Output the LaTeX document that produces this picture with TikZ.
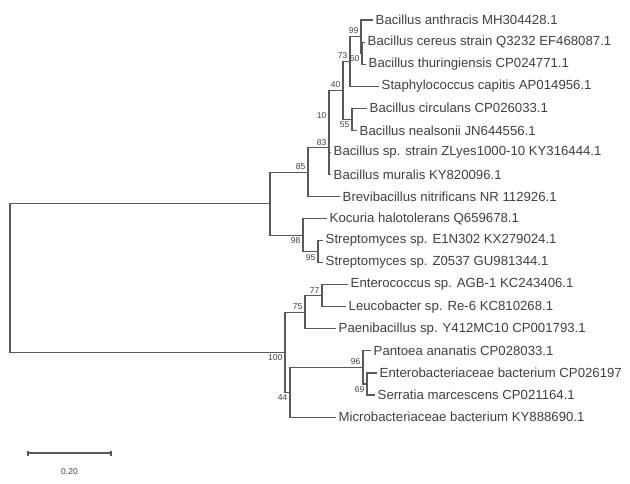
\documentclass[tikz,border=0pt]{standalone}
\usepackage{fontspec}
\setmainfont{Liberation Sans}
\usetikzlibrary{positioning,calc}

\begin{document}
\begin{tikzpicture}[
    x=1pt, y=-1pt,
    branch/.style={draw=black!65, line width=1.1pt},
    tip/.style={anchor=west, inner sep=2.5pt, font=\fontsize{13.2}{15}\selectfont, text=black!75},
    boot/.style={inner sep=2.5pt, font=\fontsize{8.5}{10}\selectfont, text=black!75}
]
\useasboundingbox (0,0) rectangle (630,484);

% inner nodes of the tree
\coordinate (root) at (10,278);
\coordinate (nU) at (270,203.6);
\coordinate (n85) at (308,172.2);
\coordinate (n83) at (329,147.9);
\coordinate (n10) at (329,121.3);
\coordinate (n40) at (343,90.3);
\coordinate (n73) at (350,61.4);
\coordinate (n99) at (361,36.6);
\coordinate (n60) at (362,53.1);
\coordinate (n55) at (352,119.3);
\coordinate (n98) at (303,235.1);
\coordinate (n95) at (318,251.6);
\coordinate (n100) at (285,352.3);
\coordinate (n75) at (305,312.3);
\coordinate (n77) at (322,295.8);
\coordinate (n44) at (290,392.3);
\coordinate (n96) at (363,367.5);
\coordinate (n69) at (367,384);

% taxa
\node[tip] (anthracis) at (373,20) {Bacillus anthracis MH304428.1};
\node[tip] (cereus) at (365,42.1) {Bacillus cereus strain Q3232 EF468087.1};
\node[tip] (thuring) at (366,64.1) {Bacillus thuringiensis CP024771.1};
\node[tip] (staph) at (379,86.2) {Staphylococcus capitis AP014956.1};
\node[tip] (circulans) at (367,108.2) {Bacillus circulans CP026033.1};
\node[tip] (nealsonii) at (357,130.3) {Bacillus nealsonii JN644556.1};
\node[tip] (zlyes) at (331,152.4) {Bacillus sp. strain ZLyes1000-10 KY316444.1};
\node[tip] (muralis) at (331,174.4) {Bacillus muralis KY820096.1};
\node[tip] (brevi) at (340,196.5) {Brevibacillus nitrificans NR 112926.1};
\node[tip] (kocuria) at (327,218.5) {Kocuria halotolerans Q659678.1};
\node[tip] (strepA) at (323,240.6) {Streptomyces sp. E1N302 KX279024.1};
\node[tip] (strepB) at (323,262.7) {Streptomyces sp. Z0537 GU981344.1};
\node[tip] (entero) at (348,284.7) {Enterococcus sp. AGB-1 KC243406.1};
\node[tip] (leuco) at (346,306.8) {Leucobacter sp. Re-6 KC810268.1};
\node[tip] (paeni) at (336,328.8) {Paenibacillus sp. Y412MC10 CP001793.1};
\node[tip] (pantoea) at (371,350.9) {Pantoea ananatis CP028033.1};
\node[tip] (enterobac) at (377,373) {Enterobacteriaceae bacterium CP026197};
\node[tip] (serratia) at (375,395) {Serratia marcescens CP021164.1};
\node[tip] (microbac) at (336,417.1) {Microbacteriaceae bacterium KY888690.1};

% branches
\draw[branch] (root) |- (nU);
\draw[branch] (root) |- (n100);
\draw[branch] (nU) |- (n85);
\draw[branch] (nU) |- (n98);
\draw[branch] (n85) |- (n83);
\draw[branch] (n85) |- (brevi.west);
\draw[branch] (n83) |- (n10);
\draw[branch] (n83) |- (muralis.west);
\draw[branch] (n10) |- (n40);
\draw[branch] (n10) |- (zlyes.west);
\draw[branch] (n40) |- (n73);
\draw[branch] (n40) |- (n55);
\draw[branch] (n73) |- (n99);
\draw[branch] (n73) |- (staph.west);
\draw[branch] (n99) |- (anthracis.west);
\draw[branch] (n99) |- (n60);
\draw[branch] (n60) |- (cereus.west);
\draw[branch] (n60) |- (thuring.west);
\draw[branch] (n55) |- (circulans.west);
\draw[branch] (n55) |- (nealsonii.west);
\draw[branch] (n98) |- (kocuria.west);
\draw[branch] (n98) |- (n95);
\draw[branch] (n95) |- (strepA.west);
\draw[branch] (n95) |- (strepB.west);
\draw[branch] (n100) |- (n75);
\draw[branch] (n100) |- (n44);
\draw[branch] (n75) |- (n77);
\draw[branch] (n75) |- (paeni.west);
\draw[branch] (n77) |- (entero.west);
\draw[branch] (n77) |- (leuco.west);
\draw[branch] (n44) |- (n96);
\draw[branch] (n44) |- (microbac.west);
\draw[branch] (n96) |- (pantoea.west);
\draw[branch] (n96) |- (n69);
\draw[branch] (n69) |- (enterobac.west);
\draw[branch] (n69) |- (serratia.west);

% bootstrap values
\node[boot, above left] (b99) at (n99) {99};
\node[boot, above left] (b73) at (n73) {73};
\node[boot, below left] (b60) at (n60) {60};
\node[boot, above left] (b40) at (n40) {40};
\node[boot, below left] (b55) at (n55) {55};
\node[boot, above left] (b10) at (n10) {10};
\node[boot, above left] (b83) at (n83) {83};
\node[boot, above left] (b85) at (n85) {85};
\node[boot, below left] (b98) at (n98) {98};
\node[boot, below left] (b95) at (n95) {95};
\node[boot, above left] (b77) at (n77) {77};
\node[boot, above left] (b75) at (n75) {75};
\node[boot, below left] (b100) at (n100) {100};
\node[boot, above left] (b96) at (n96) {96};
\node[boot, below left] (b69) at (n69) {69};
\node[boot, below left] (b44) at (n44) {44};

% scale bar
\coordinate (s0) at (28,453);
\coordinate (s1) at (111,453);
\coordinate (smid) at ($(s0)!0.5!(s1)$);
\draw[branch] (s0) -- (s1);
\draw[branch] ($(s0)+(0,-2.5)$) -- ($(s0)+(0,2.5)$);
\draw[branch] ($(s1)+(0,-2.5)$) -- ($(s1)+(0,2.5)$);
\node[boot, below=13pt of smid] (slabel) {0.20};
\end{tikzpicture}
\end{document}
